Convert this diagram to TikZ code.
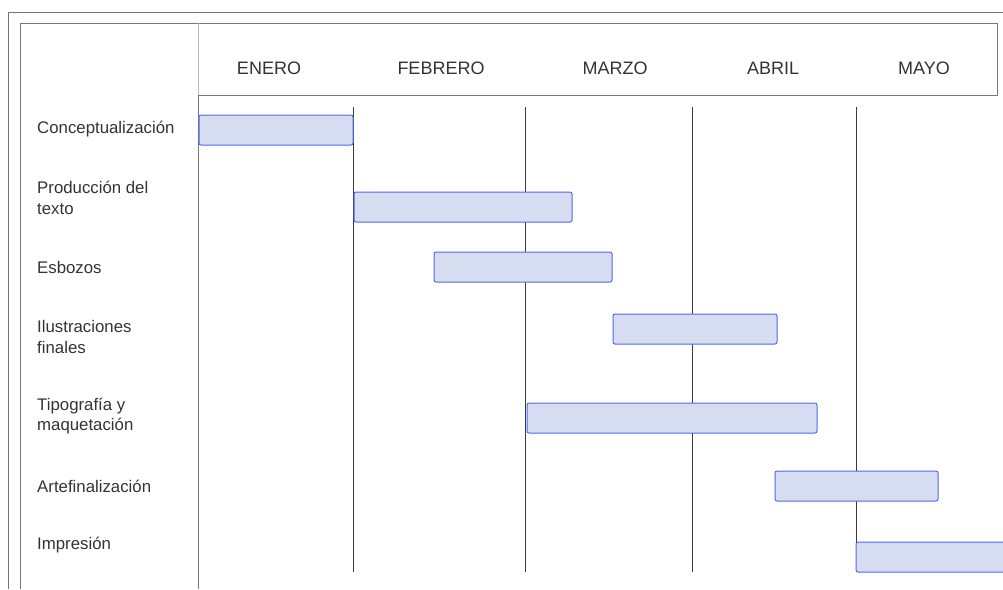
\documentclass[tikz,border=0pt]{standalone}
\usepackage{fontspec}
\setmainfont{Liberation Sans}
\definecolor{barfill}{HTML}{D6DDF0}
\definecolor{barline}{HTML}{5266F2}
\definecolor{txt}{HTML}{333333}
\definecolor{frameline}{HTML}{787878}
\definecolor{gridline}{HTML}{3A3A3A}
\tikzset{
  bar/.style={draw=barline, fill=barfill, line width=1pt, rounded corners=2pt},
  task/.style={anchor=west, align=left, text=txt, font=\fontsize{16.8}{20.5}\selectfont, inner sep=0pt},
  month/.style={text=txt, font=\fontsize{18}{20}\selectfont, inner sep=0pt},
  frm/.style={draw=frameline, line width=0.9pt},
  grid/.style={draw=gridline, line width=1pt}
}
\begin{document}
\begin{tikzpicture}[x=1pt,y=-1pt]
\useasboundingbox (0,0) rectangle (1003,589);
% outer frame
\draw[frm] (8,589) -- (8,12) -- (1003,12);
% inner frame
\draw[frm] (20,589) -- (20,23) -- (997,23) -- (997,95) -- (198,95);
\draw[draw=frameline!50, line width=0.8pt] (198,23) -- (198,95);
\draw[frm] (198,95) -- (198,589);
% month grid lines
\foreach \x in {353,525,692,856} \draw[grid] (\x,107) -- (\x,572);
% months
\node[month] (m1) at (269,68) {ENERO};
\node[month] (m2) at (441,68) {FEBRERO};
\node[month] (m3) at (615,68) {MARZO};
\node[month] (m4) at (773,68) {ABRIL};
\node[month] (m5) at (924,68) {MAYO};
% tasks
\node[task] (t1) at (37,129) {Conceptualización};
\node[task] (t2) at (37,198) {Producción del\\texto};
\node[task] (t3) at (37,267) {Esbozos};
\node[task] (t4) at (37,337) {Ilustraciones\\finales};
\node[task] (t5) at (37,416) {Tipografía y\\maquetación};
\node[task] (t6) at (37,486) {Artefinalización};
\node[task] (t7) at (37,545) {Impresión};
% bars
\draw[bar] (199,115) rectangle (353,145);
\draw[bar] (354,192) rectangle (572,222);
\draw[bar] (434,252) rectangle (612,282);
\draw[bar] (613,314) rectangle (777,344);
\draw[bar] (527,403) rectangle (817,433);
\draw[bar] (775,471) rectangle (938,501);
\draw[bar] (856,542) rectangle (1010,572);
\end{tikzpicture}
\end{document}
